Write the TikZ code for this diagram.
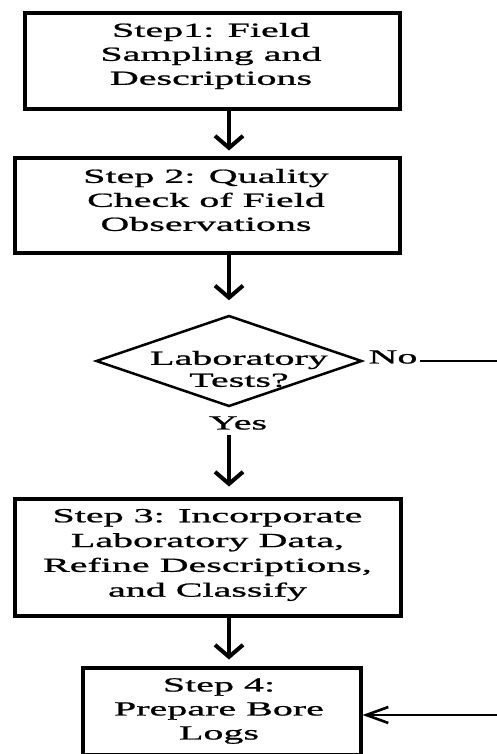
\documentclass[tikz,border=0pt]{standalone}
\usepackage{fontspec}
\setmainfont{Liberation Serif}[FakeStretch=2.0,FakeBold=1.0]
\usetikzlibrary{shapes.geometric,arrows.meta}
\begin{document}
\begin{tikzpicture}[x=1pt,y=-1pt,
  stepbox/.style={draw, line width=4pt, inner sep=0pt},
  decision/.style={draw, diamond, line width=2.5pt, inner sep=0pt},
  txt/.style={align=center, inner sep=0pt, font=\fontsize{20}{24}\selectfont},
  lbl/.style={inner sep=2.5pt, font=\fontsize{20}{24}\selectfont},
  darrow/.style={line width=4pt, -{Straight Barb[length=12pt,width=28pt]}},
  larrow/.style={line width=2.6pt, -{Straight Barb[length=22pt,width=16pt]}}]
\useasboundingbox (0,0) rectangle (497,754);
\clip (0,0) rectangle (497,754);
% boxes
\node[stepbox, minimum width=375pt, minimum height=96pt] (b1) at (212.5,61.5) {};
\node[stepbox, minimum width=385pt, minimum height=94pt] (b2) at (207.5,205.5) {};
\node[decision, minimum width=266pt, minimum height=91pt] (dia) at (229,361) {};
\node[stepbox, minimum width=386pt, minimum height=117pt] (b3) at (207.5,557) {};
\node[stepbox, minimum width=278pt, minimum height=87.5pt] (b4) at (221.5,711.25) {};
% texts
\node[txt] (t1) at (211,56) {Step1: Field\\Sampling and\\Descriptions};
\node[txt] (t2) at (206,200) {Step 2: Quality\\Check of Field\\Observations};
\node[txt, font=\fontsize{20}{24.8}\selectfont] (t3) at (207.5,555) {Step 3: Incorporate\\Laboratory Data,\\Refine Descriptions,\\and Classify};
\node[txt] (t4) at (219,711) {Step 4:\\Prepare Bore\\Logs};
\node[txt, font=\fontsize{20}{22}\selectfont] (td) at (239,369) {Laboratory\\Tests?};
\node[lbl] (no) at (393,357) {No};
\node[txt] (yes) at (238,423) {Yes};
% connectors
\coordinate (c1) at (520,361);
\coordinate (c2) at (520,715);
\draw[darrow, shorten >=6pt] (b1.south -| dia.center) -- (b2.north -| dia.center);
\draw[darrow, shorten >=14pt] (b2.south -| dia.center) -- (dia.north);
\draw[darrow, shorten <=5pt, shorten >=10pt] (yes.south -| dia.center) -- (b3.north -| dia.center);
\draw[darrow, shorten >=6pt] (b3.south -| dia.center) -- (b4.north -| dia.center);
\draw[larrow] (no.east |- dia.east) -- (c1) -- (c2) -- (b4.east |- c2);
\end{tikzpicture}
\end{document}
